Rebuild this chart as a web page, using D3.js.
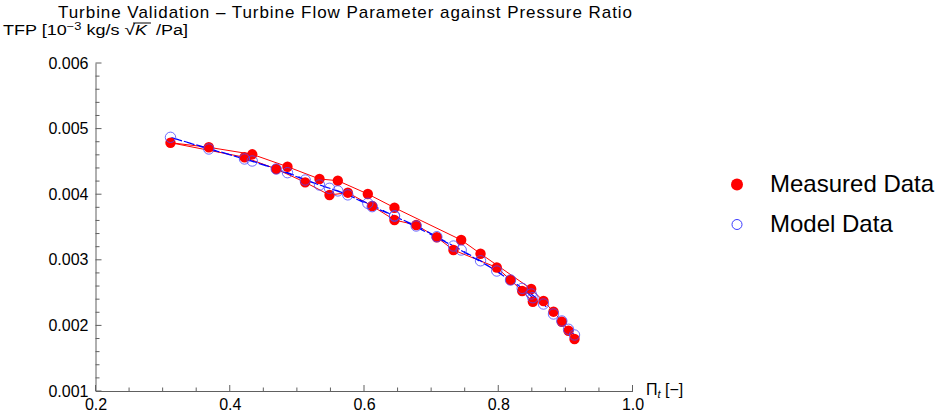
<!DOCTYPE html>
<html><head><meta charset="utf-8">
<script src="https://cdn.jsdelivr.net/npm/d3@7"></script>
<style>body{margin:0;background:#fff;} svg{display:block;font-family:"Liberation Sans",Arial,sans-serif;} text{white-space:pre;}</style>
</head><body>
<svg id="chart" width="945" height="415"></svg>
<script>
// ---- data (in measurement order) ----
const pressureRatio = [0.8515,0.8357,0.8183,0.7978,0.7333,0.7085,0.6778,0.6454,0.6122,0.5759,0.5486,0.5124,0.4692,0.4220,0.3117,
                       0.3688,0.4335,0.4860,0.5337,0.5610,0.6057,0.6454,0.7448,0.7736,0.8491,0.8674,0.8823,0.8947,0.9047,0.9136];
const measuredTFP = [0.002361,0.002524,0.002692,0.002883,0.003149,0.003343,0.003530,0.003607,0.003820,0.004023,0.003988,0.004181,0.004384,0.004563,0.004785,
                     0.004715,0.004608,0.004419,0.004232,0.004206,0.004003,0.003794,0.003302,0.003093,0.002555,0.002372,0.002209,0.002056,0.001919,0.001793];
const modelTFP = [0.002422,0.002565,0.002692,0.002829,0.003210,0.003352,0.003515,0.003668,0.003810,0.003990,0.004090,0.004216,0.004384,0.004537,0.004867,
                  0.004689,0.004506,0.004328,0.004140,0.004050,0.003861,0.003668,0.003149,0.002985,0.002479,0.002326,0.002174,0.002067,0.001941,0.001854];
const xTicks = [0.2,0.4,0.6,0.8,1.0];
const yTicks = [0.001,0.002,0.003,0.004,0.005,0.006];
const seriesNames = ["Measured Data","Model Data"];
const titleText = "Turbine Validation \u2013 Turbine Flow Parameter against Pressure Ratio";

const svg = d3.select("#chart");
const x = d3.scaleLinear().domain([0.2,1.0]).range([95.5,632.5]);
const y = d3.scaleLinear().domain([0.001,0.006]).range([391,63]);
const axisColor = "#606060";

// title
svg.append("text").attr("x",58).attr("y",17.5)
  .attr("font-size",17).attr("textLength",574).attr("lengthAdjust","spacing")
  .attr("fill","#000").text(titleText);

// y-axis label with superscript and sqrt
(function(){
  const segs = [
    {t:"TFP [10", s:14, dy:0},
    {t:"\u22123", s:10, dy:-4.5},
    {t:" kg/s ", s:14, dy:0},
    {t:"\u221A", s:15, dy:0},
    {t:"K", s:14, dy:0, it:true, over:true},
    {t:" /Pa]", s:14, dy:0}
  ];
  let cx = 3; const by = 35;
  const g = svg.append("g");
  segs.forEach(sg=>{
    const t = g.append("text").attr("x",cx).attr("y",by+sg.dy).attr("font-size",sg.s)
      .attr("font-style",sg.it?"italic":"normal").attr("fill","#000").text(sg.t);
    const w = t.node().getComputedTextLength();
    if(sg.over){
      g.append("line").attr("x1",cx-1.5).attr("x2",cx+w+3).attr("y1",by-12).attr("y2",by-12)
        .attr("stroke","#000").attr("stroke-width",1);
      cx += 3;
    }
    cx += w;
  });
  // stretch to the reference width
  const bb = g.node().getBBox();
  const target = 185;
  g.attr("transform",`translate(3,0) scale(${target/bb.width},1) translate(${-bb.x},0)`);
})();

// axes
const gx = svg.append("g").attr("transform",`translate(0,${y(0.001)})`);
gx.call(d3.axisBottom(x).tickValues(xTicks).tickSize(0).tickFormat(d3.format(".1f")).tickPadding(8));
gx.select(".domain").attr("stroke",axisColor);
gx.selectAll("text").attr("font-size",16).attr("fill","#000").attr("font-family","Liberation Sans, Arial, sans-serif");
const xMinor = d3.range(0.2,1.0001,0.05);
gx.selectAll("line.tk").data(xMinor).join("line").attr("class","tk")
  .attr("x1",d=>x(d)).attr("x2",d=>x(d)).attr("y1",0)
  .attr("y2",(d,i)=> i%4===0 ? -6 : -3.5)
  .attr("stroke",axisColor);

const gy = svg.append("g").attr("transform",`translate(${x(0.2)},0)`);
gy.call(d3.axisLeft(y).tickValues(yTicks).tickSize(0).tickFormat(d3.format(".3f")).tickPadding(7));
gy.select(".domain").attr("stroke",axisColor);
gy.selectAll("text").attr("font-size",16).attr("fill","#000").attr("font-family","Liberation Sans, Arial, sans-serif");
const yMinor = d3.range(0.001,0.00600001,0.0002);
gy.selectAll("line.tk").data(yMinor).join("line").attr("class","tk")
  .attr("y1",d=>y(d)).attr("y2",d=>y(d)).attr("x1",0)
  .attr("x2",(d,i)=> i%5===0 ? 6 : 4)
  .attr("stroke",axisColor);

// x axis label
const xl = svg.append("text").attr("x",646).attr("y",395).attr("font-size",16).attr("fill","#000");
xl.append("tspan").text("\u03A0");
xl.append("tspan").attr("font-size",11).attr("font-style","italic").attr("dy",3).text("t");
xl.append("tspan").attr("dy",-3).text(" [\u2212]");

// data
const idx = d3.range(pressureRatio.length);
const lineMeas = d3.line().x(i=>x(pressureRatio[i])).y(i=>y(measuredTFP[i]));
const lineModel = d3.line().x(i=>x(pressureRatio[i])).y(i=>y(modelTFP[i]));

svg.append("path").attr("d",lineMeas(idx)).attr("fill","none").attr("stroke","#ff0000").attr("stroke-width",1);
svg.append("path").attr("d",lineModel(idx)).attr("fill","none").attr("stroke","#0000ff").attr("stroke-width",1.2)
  .attr("stroke-dasharray","8,5");

svg.append("g").selectAll("circle").data(idx).join("circle")
  .attr("cx",i=>x(pressureRatio[i])).attr("cy",i=>y(measuredTFP[i])).attr("r",5.2)
  .attr("fill","#ff0000");
svg.append("g").selectAll("circle").data(idx).join("circle")
  .attr("cx",i=>x(pressureRatio[i])).attr("cy",i=>y(modelTFP[i])).attr("r",5.2)
  .attr("fill","none").attr("stroke","#4a4aff").attr("stroke-opacity",0.8).attr("stroke-width",1);

// legend
const lg = svg.append("g");
lg.append("circle").attr("cx",737).attr("cy",184.5).attr("r",6).attr("fill","#ff0000");
lg.append("text").attr("x",770).attr("y",192).attr("font-size",24).attr("fill","#000").text(seriesNames[0]);
lg.append("circle").attr("cx",737).attr("cy",224.5).attr("r",5).attr("fill","none").attr("stroke","#3a3aff").attr("stroke-width",1);
lg.append("text").attr("x",770).attr("y",232).attr("font-size",24).attr("fill","#000").text(seriesNames[1]);
</script>
</body></html>
